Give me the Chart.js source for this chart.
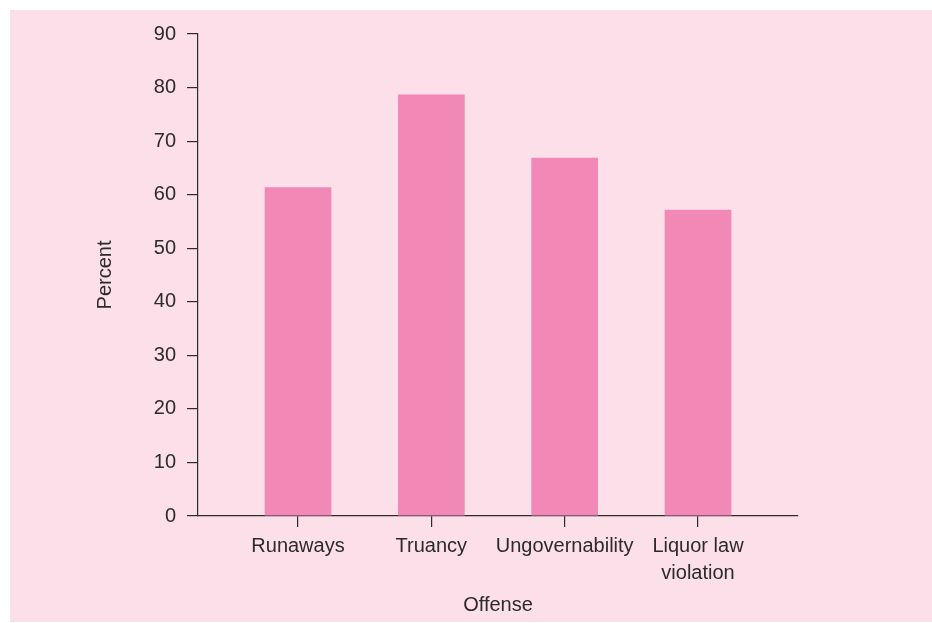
<!DOCTYPE html>
<html>
<head>
<meta charset="utf-8">
<script src="https://cdn.jsdelivr.net/npm/chart.js@4/dist/chart.umd.min.js"></script>
<style>
  html, body { margin: 0; padding: 0; background: #ffffff; }
  #wrap { position: relative; width: 932px; height: 623px; }
</style>
</head>
<body>
<div id="wrap"><canvas id="c"></canvas></div>
<script>
// Share of cases by offense type
const categories = ['Runaways', 'Truancy', 'Ungovernability', ['Liquor law', 'violation']];
const percentValues = [61.4, 78.7, 66.9, 57.2];
const yTicks = [0, 10, 20, 30, 40, 50, 60, 70, 80, 90];

const INK = '#2b2b2b';
const FONT = { family: '"Liberation Sans", Arial, sans-serif', size: 20 };

// Category positions 1..n on a numeric axis so the outer margins can be wider than half a slot
const points = percentValues.map((v, i) => ({ x: i + 1, y: v }));

const panelBackground = {
  id: 'panelBackground',
  beforeDraw(chart) {
    const ctx = chart.ctx;
    ctx.save();
    ctx.fillStyle = '#ffffff';
    ctx.fillRect(0, 0, chart.width, chart.height);
    ctx.fillStyle = '#fcdfe9';
    ctx.fillRect(10, 10, chart.width - 10, chart.height - 11);
    ctx.restore();
  }
};

new Chart(document.getElementById('c'), {
  type: 'bar',
  data: {
    datasets: [{
      data: points,
      backgroundColor: '#f188b5',
      borderWidth: 0,
      barPercentage: 0.5,
      categoryPercentage: 1
    }]
  },
  options: {
    responsive: true,
    maintainAspectRatio: false,
    animation: false,
    layout: { padding: { top: 34, right: 134, bottom: 0, left: 88 } },
    plugins: { legend: { display: false }, tooltip: { enabled: false } },
    scales: {
      x: {
        type: 'linear',
        min: 0.25,
        max: 4.75,
        offset: false,
        afterBuildTicks(scale) {
          scale.ticks = categories.map((_, i) => ({ value: i + 1 }));
        },
        afterFit(scale) { scale.height = 107; },
        ticks: {
          color: INK,
          font: { ...FONT, lineHeight: 1.35 },
          padding: 6,
          autoSkip: false,
          maxRotation: 0,
          callback: (v) => categories[v - 1]
        },
        grid: { offset: false, drawOnChartArea: false, drawTicks: true, tickLength: 11, color: INK, lineWidth: 1.2 },
        border: { display: true, color: INK, width: 1.2 },
        title: { display: true, text: 'Offense', color: INK, font: FONT, padding: { top: 0, bottom: 6 } }
      },
      y: {
        min: 0,
        max: 90,
        afterBuildTicks(scale) {
          scale.ticks = yTicks.map(v => ({ value: v }));
        },
        afterFit(scale) { scale.width = 110; },
        ticks: { color: INK, font: FONT, padding: 11 },
        grid: { drawOnChartArea: false, drawTicks: true, tickLength: 11, color: INK, lineWidth: 1.2 },
        border: { display: true, color: INK, width: 1.2 },
        title: { display: true, text: 'Percent', color: INK, font: FONT, padding: { top: 5, bottom: 0 } }
      }
    }
  },
  plugins: [panelBackground]
});
</script>
</body>
</html>
